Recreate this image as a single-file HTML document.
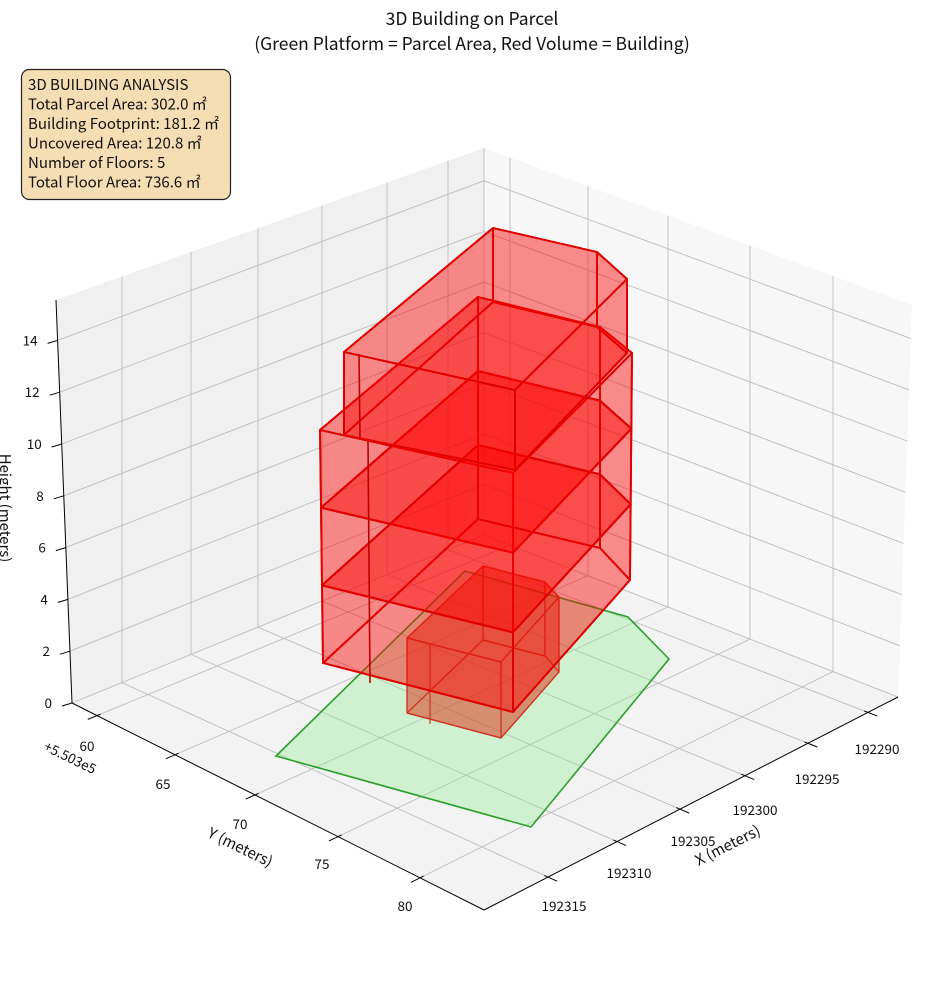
<!DOCTYPE html>
<html><head><meta charset="utf-8"><style>
html,body{margin:0;padding:0;background:#fff;}
svg{display:block;font-family:"Noto Sans CJK JP","Liberation Sans",sans-serif;}
</style></head><body>
<svg id="s" width="944" height="992" viewBox="0 0 944 992" xmlns="http://www.w3.org/2000/svg">
<text x="472" y="25" font-size="17.5" text-anchor="middle" fill="#111">3D Building on Parcel</text>
<text x="472" y="50" font-size="17.5" text-anchor="middle" fill="#111">(Green Platform = Parcel Area, Red Volume = Building)</text>
<polygon points="56,300 484,148 484,535 72,703" fill="#f0f0f0"/>
<polygon points="484,148 912,305 898,697 484,535" fill="#f7f7f7"/>
<polygon points="72,703 484,535 898,697 484,910" fill="#f3f3f3"/>
<g id="grid" stroke="#bdbdbd" stroke-width="0.9" fill="none"></g>
<g id="axes" stroke="#000" stroke-width="1" fill="none">
<line x1="56" y1="300" x2="72" y2="703"/>
<line x1="72" y1="703" x2="484" y2="910"/>
<line x1="484" y1="910" x2="898" y2="697"/>
</g>
<g id="ticklabels" font-size="13.5" fill="#111"></g>
<polygon points="276,756 465,571 628,617 669,659 531,827" fill="rgba(144,238,144,0.35)" stroke="#2ca02c" stroke-width="1.6"/>
<g id="bld" stroke-linejoin="round"></g>
<text transform="translate(0,508) rotate(90)" font-size="15" text-anchor="middle" fill="#111">Height (meters)</text>
<text transform="translate(238,852) rotate(26)" font-size="15" text-anchor="middle" fill="#111">Y (meters)</text>
<text transform="translate(730,850) rotate(-27)" font-size="15" text-anchor="middle" fill="#111">X (meters)</text>
<text transform="translate(68,762) rotate(26)" font-size="13.5" text-anchor="middle" fill="#111">+5.503e5</text>
<rect x="21.5" y="69.5" width="209" height="130" rx="8" fill="#f5deb3" stroke="#222" stroke-width="1.2"/>
<g font-size="15" fill="#111">
<text x="28" y="90">3D BUILDING ANALYSIS</text>
<text x="28" y="109.5">Total Parcel Area: 302.0 ㎡</text>
<text x="28" y="129">Building Footprint: 181.2 ㎡</text>
<text x="28" y="148.5">Uncovered Area: 120.8 ㎡</text>
<text x="28" y="168">Number of Floors: 5</text>
<text x="28" y="187.5">Total Floor Area: 736.6 ㎡</text>
</g>
</svg>
<script>
var NS="http://www.w3.org/2000/svg";
function el(p,t,a,txt){var e=document.createElementNS(NS,t);for(var k in a)e.setAttribute(k,a[k]);if(txt!==undefined)e.textContent=txt;p.appendChild(e);return e;}
var g=document.getElementById('grid'),ax=document.getElementById('axes'),tl=document.getElementById('ticklabels'),b=document.getElementById('bld');
function L(x1,y1,x2,y2,p){el(p||g,'line',{x1:x1,y1:y1,x2:x2,y2:y2});}
for(var z=0;z<=14;z+=2){
 var yl=703-25.9*z, xl=72-25.9*z*16/403;
 var yb=535-25.3*z, yr=697-25.6*z, xr=898+25.6*z*14/392;
 L(xl,yl,484,yb);L(484,yb,xr,yr);
 L(xl,yl,xl-10,yl+3,ax);
 el(tl,'text',{x:xl-20,y:yl+5,'text-anchor':'end'},String(z));
}
var lv=[122,191,258,322,387,448];
var fr=[548,617,680,745,808,868];
var xl_=['192315','192310','192305','192300','192295','192290'];
var xlp=[[564,911],[629,878],[693,846],[755,815],[817,784],[877,754]];
for(var i=0;i<6;i++){
 var x=lv[i],yb=703-(x-72)*168/412,yt=300-(x-56)*152/428;
 L(x,yt,x,yb);
 var fx=fr[i],fy=910-(fx-484)*213/414;
 L(x,yb,fx,fy);
 var dx=fx-x,dy=fy-yb,d=Math.hypot(dx,dy);dx/=d;dy/=d;
 L(fx-4*dx,fy-4*dy,fx+10*dx,fy+10*dy,ax);
 el(tl,'text',{x:xlp[i][0],y:xlp[i][1],'text-anchor':'middle'},xl_[i]);
}
L(484,148,484,535);
var rv=[510,588,668,750,833];
var lf=[97,175,255,338,420];
var yl_=['60','65','70','75','80'];
var ylp=[[87,751],[163,789],[240,829],[322,869],[405,911]];
for(var i=0;i<5;i++){
 var x=rv[i],yb=535+(x-484)*162/414,yt=148+(x-484)*157/428;
 L(x,yt,x,yb);
 var fx=lf[i],fy=703+(fx-72)*207/412;
 L(x,yb,fx,fy);
 var dx=fx-x,dy=fy-yb,d=Math.hypot(dx,dy);dx/=d;dy/=d;
 L(fx-4*dx,fy-4*dy,fx+10*dx,fy+10*dy,ax);
 el(tl,'text',{x:ylp[i][0],y:ylp[i][1],'text-anchor':'middle'},yl_[i]);
}
function prism(top,bot,fill,stroke,sw){
 var n=top.length;
 function pts(a){return a.map(function(p){return p[0]+','+p[1];}).join(' ');}
 el(b,'polygon',{points:pts(bot),fill:fill,stroke:stroke,'stroke-width':sw});
 for(var i=0;i<n;i++){var j=(i+1)%n;
  el(b,'polygon',{points:pts([top[i],top[j],bot[j],bot[i]]),fill:fill,stroke:stroke,'stroke-width':sw});}
 el(b,'polygon',{points:pts(top),fill:fill,stroke:stroke,'stroke-width':sw});
}
function lerp(a,c,t){return a.map(function(p,i){return [p[0]+(c[i][0]-p[0])*t,p[1]+(c[i][1]-p[1])*t];});}
prism([[407,638],[483,566],[545,582],[559,597],[501,662]],
      [[407,713],[483,640],[545,656],[559,672],[501,738]],
      'rgba(220,50,20,0.3)','#cc3322',1.2);
el(b,'line',{x1:430,y1:645,x2:430,y2:724,stroke:'#cc3322','stroke-width':1.2});
var T=[[320,430],[478,297],[600,327],[632,353],[513,473]];
var B=[[323,663],[478,519],[600,548],[630,580],[513,712]];
for(var k=0;k<3;k++){
 prism(lerp(T,B,k/3),lerp(T,B,(k+1)/3),'rgba(255,0,0,0.25)','#e00000',1.9);
}
el(b,'line',{x1:368,y1:441,x2:370,y2:683,stroke:'#c00000','stroke-width':1.6});
prism([[344,352],[493,228],[597,252],[627,279],[515,390]],
      [[344,435],[493,302],[597,327],[627,353],[515,470]],
      'rgba(255,0,0,0.25)','#e00000',1.9);
el(b,'line',{x1:359,y1:354,x2:360,y2:437,stroke:'#c00000','stroke-width':1.6});
</script>
</body></html>
